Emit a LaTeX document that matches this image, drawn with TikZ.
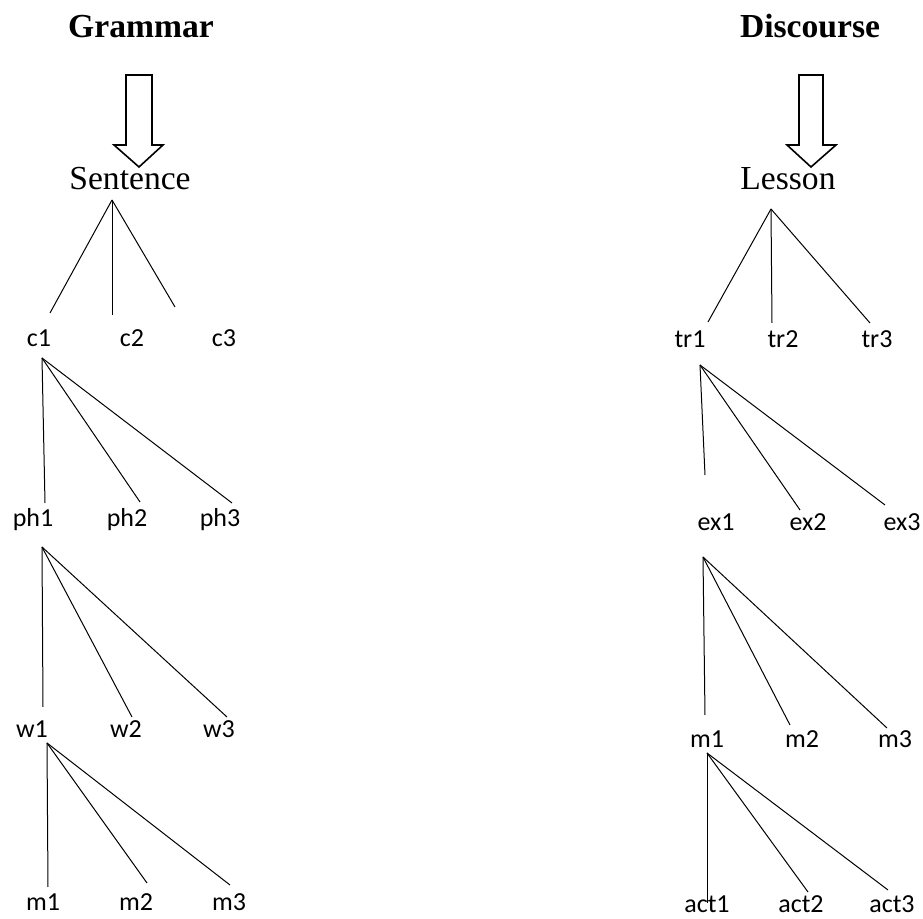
\documentclass[tikz,border=0pt]{standalone}
\usepackage{fontspec}
\setmainfont{Liberation Serif}
\newfontfamily\calfont{Carlito}
\usetikzlibrary{calc}

\begin{document}
\begin{tikzpicture}[x=0.5pt,y=-0.5pt,line width=0.5pt,
   ttl/.style={font=\bfseries\fontsize{16.8}{20}\selectfont,inner sep=0pt,anchor=base},
   rt/.style={font=\fontsize{16.8}{20}\selectfont,inner sep=0pt,anchor=base},
   lab/.style={font=\calfont\fontsize{13}{15}\selectfont,inner sep=0pt,anchor=base},
   blk/.style={draw,fill=white,line width=0.8pt,line join=miter}]
  \useasboundingbox (0,0) rectangle (923,919);
  % grammar side
  \node[ttl] (gram) at (141,38) {Grammar};
  \draw[blk] (126,75) -- (152,75) -- (152,145) -- (163,145) -- (139,167) -- (114,145) -- (126,145) -- cycle;
  \node[rt] (sent) at (130,190) {Sentence};
  \node[lab] (c1) at (39,347) {c1};
  \node[lab] (c2) at (132,347) {c2};
  \node[lab] (c3) at (224,347) {c3};
  \node[lab] (ph1) at (33,527) {ph1};
  \node[lab] (ph2) at (127,527) {ph2};
  \node[lab] (ph3) at (220,527) {ph3};
  \node[lab] (w1) at (32,738) {w1};
  \node[lab] (w2) at (126,738) {w2};
  \node[lab] (w3) at (219,738) {w3};
  \node[lab] (m1) at (43,911) {m1};
  \node[lab] (m2) at (136,911) {m2};
  \node[lab] (m3) at (229,911) {m3};
  \draw ($(sent.base)+(-18,10)$) -- ($(c1.base)+(11,-34)$);
  \draw ($(sent.base)+(-18,10)$) -- ($(c2.base)+(-20,-32)$);
  \draw ($(sent.base)+(-18,10)$) -- ($(c3.base)+(-49,-40)$);
  \draw ($(c1.base)+(3,11)$) -- ($(ph1.base)+(12,-24)$);
  \draw ($(c1.base)+(3,11)$) -- ($(ph2.base)+(13,-25)$);
  \draw ($(c1.base)+(3,11)$) -- ($(ph3.base)+(12,-24)$);
  \draw ($(ph1.base)+(9,20)$) -- ($(w1.base)+(11,-31)$);
  \draw ($(ph1.base)+(9,20)$) -- ($(w2.base)+(6,-21)$);
  \draw ($(ph1.base)+(9,20)$) -- ($(w3.base)+(8,-21)$);
  \draw ($(w1.base)+(15,5)$) -- ($(m1.base)+(5,-24)$);
  \draw ($(w1.base)+(15,5)$) -- ($(m2.base)+(11,-28)$);
  \draw ($(w1.base)+(15,5)$) -- ($(m3.base)+(1,-26)$);
  % discourse side
  \node[ttl] (disc) at (810,38) {Discourse};
  \draw[blk] (799,75) -- (823,75) -- (823,145) -- (836,145) -- (811,167) -- (787,145) -- (799,145) -- cycle;
  \node[rt] (less) at (788,190) {Lesson};
  \node[lab] (tr1) at (690,348) {tr1};
  \node[lab] (tr2) at (783,348) {tr2};
  \node[lab] (tr3) at (877,348) {tr3};
  \node[lab] (ex1) at (716,531) {ex1};
  \node[lab] (ex2) at (808,531) {ex2};
  \node[lab] (ex3) at (902,531) {ex3};
  \node[lab] (rm1) at (707,748) {m1};
  \node[lab] (rm2) at (802,748) {m2};
  \node[lab] (rm3) at (895,748) {m3};
  \node[lab] (act1) at (707,913) {act1};
  \node[lab] (act2) at (801,913) {act2};
  \node[lab] (act3) at (892,913) {act3};
  \draw ($(less.base)+(-17,19)$) -- ($(tr1.base)+(18,-26)$);
  \draw ($(less.base)+(-17,19)$) -- ($(tr2.base)+(-11,-25)$);
  \draw ($(less.base)+(-17,19)$) -- ($(tr3.base)+(-7,-25)$);
  \draw ($(tr1.base)+(10,17)$) -- ($(ex1.base)+(-11,-56)$);
  \draw ($(tr1.base)+(10,17)$) -- ($(ex2.base)+(-8,-21)$);
  \draw ($(tr1.base)+(10,17)$) -- ($(ex3.base)+(-17,-26)$);
  \draw ($(ex1.base)+(-13,26)$) -- ($(rm1.base)+(-2,-33)$);
  \draw ($(ex1.base)+(-13,26)$) -- ($(rm2.base)+(-12,-23)$);
  \draw ($(ex1.base)+(-13,26)$) -- ($(rm3.base)+(-8,-20)$);
  \draw ($(rm1.base)+(0,5)$) -- ($(act1.base)+(0,-10)$);
  \draw ($(rm1.base)+(0,5)$) -- ($(act2.base)+(7,-21)$);
  \draw ($(rm1.base)+(0,5)$) -- ($(act3.base)+(-4,-23)$);
\end{tikzpicture}
\end{document}
